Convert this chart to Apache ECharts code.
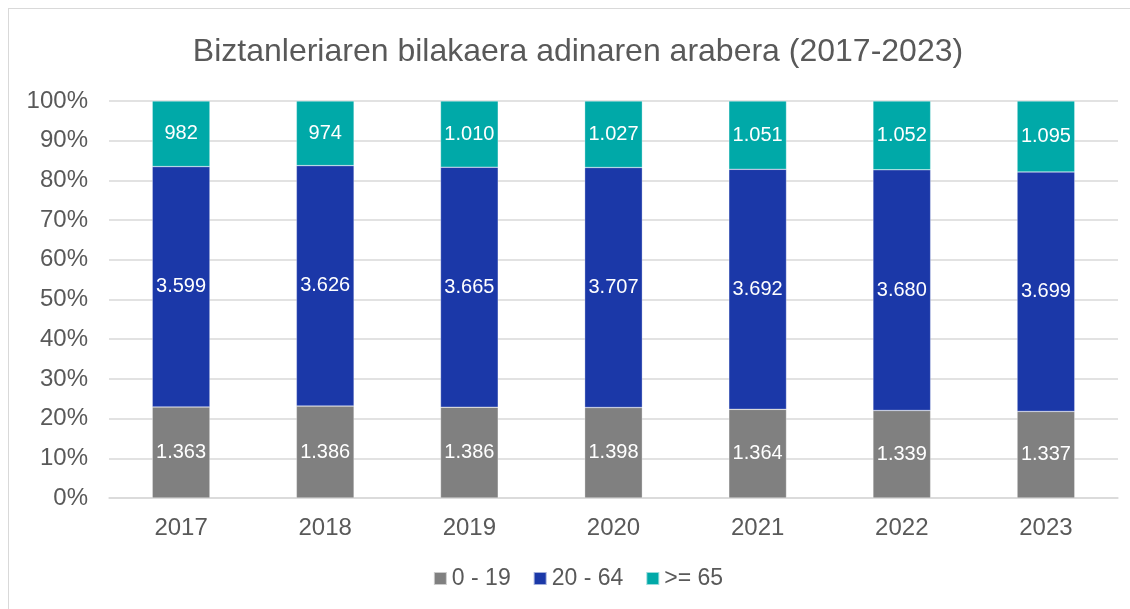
<!DOCTYPE html>
<html>
<head>
<meta charset="utf-8">
<script src="https://cdn.jsdelivr.net/npm/echarts@6/dist/echarts.min.js"></script>
<style>
  html, body { margin: 0; padding: 0; background: #fff; overflow: hidden; }
  #chart { position: absolute; left: 8px; top: 8px; width: 1140px; height: 610px; border: 1px solid #d9d9d9; box-sizing: border-box; }
</style>
</head>
<body>
<div id="chart"></div>
<script>
var years = ['2017', '2018', '2019', '2020', '2021', '2022', '2023'];
var young = [1363, 1386, 1386, 1398, 1364, 1339, 1337];
var adult = [3599, 3626, 3665, 3707, 3692, 3680, 3699];
var old = [982, 974, 1010, 1027, 1051, 1052, 1095];

// 100% pilatua: ehunekoak kalkulatu
function pct(arr) {
    return arr.map(function (v, i) {
        return v / (young[i] + adult[i] + old[i]) * 100;
    });
}
function fmt(n) {
    return String(n).replace(/\B(?=(\d{3})+(?!\d))/g, '.');
}

var font = 'Liberation Sans, Arial, sans-serif';

function mkSeries(name, raw, color) {
    return {
        name: name,
        type: 'bar',
        stack: 'guztira',
        barWidth: '40%',
        data: pct(raw),
        itemStyle: { color: color, borderColor: 'rgba(255,255,255,0.6)', borderWidth: 0.5 },
        label: {
            show: true,
            position: 'inside',
            color: '#fff',
            fontSize: 20,
            fontFamily: font,
            formatter: function (p) { return fmt(raw[p.dataIndex]); }
        }
    };
}

var myChart = echarts.init(document.getElementById('chart'));
myChart.setOption({
    animation: false,
    title: {
        text: 'Biztanleriaren bilakaera adinaren arabera (2017-2023)',
        left: 'center',
        top: 22,
        textStyle: { color: '#595959', fontSize: 32, fontWeight: 'normal', fontFamily: font }
    },
    legend: {
        bottom: 22,
        left: 'center',
        itemWidth: 13,
        itemHeight: 13,
        itemGap: 22,
        icon: 'rect',
        textStyle: { color: '#595959', fontSize: 23, fontFamily: font },
        data: ['0 - 19', '20 - 64', '>= 65']
    },
    grid: { left: 100, right: 29, top: 92, bottom: 119 },
    xAxis: {
        type: 'category',
        data: years,
        axisTick: { show: false },
        axisLine: { lineStyle: { color: '#d9d9d9', width: 1.5 } },
        axisLabel: { color: '#595959', fontSize: 24, margin: 18, fontFamily: font }
    },
    yAxis: {
        type: 'value',
        min: 0,
        max: 100,
        interval: 10,
        axisLabel: { color: '#595959', fontSize: 24, margin: 21, formatter: '{value}%', fontFamily: font },
        splitLine: { lineStyle: { color: '#d9d9d9', width: 1.5 } }
    },
    series: [
        mkSeries('0 - 19', young, '#808080'),
        mkSeries('20 - 64', adult, '#1b38a8'),
        mkSeries('>= 65', old, '#00a9a8')
    ]
});
</script>
</body>
</html>
